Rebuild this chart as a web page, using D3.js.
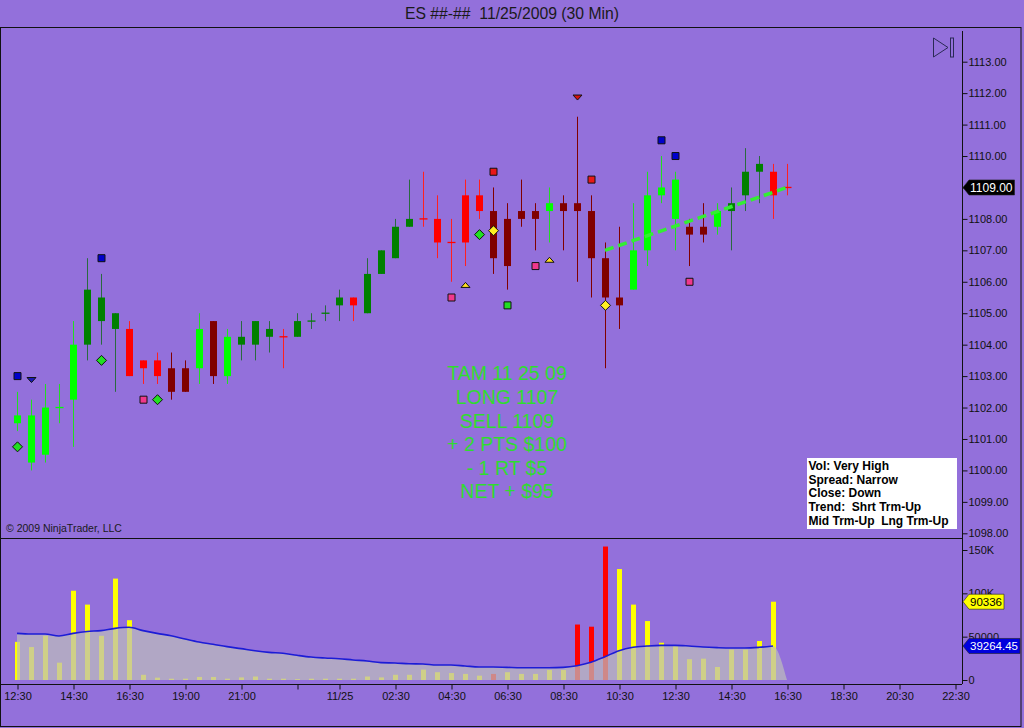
<!DOCTYPE html>
<html>
<head>
<meta charset="utf-8">
<script src="https://cdn.jsdelivr.net/npm/d3@7"></script>
<style>
  body { margin: 0; background: #9370DB; }
  text { font-family: Arial, "Liberation Sans", sans-serif; }
</style>
</head>
<body>
<div id="chart"></div>
<script>
// Chart size
const W = 1024;
const H = 728;

// 30 min bars, index 0 = 11/24 12:30
const opens  = [1101.5,1100.25,1100.5,1102,1102.25,1104,1104.75,1104.5,1104.5,1103.5,
                1103.5,1103.25,1103.25,1103.25,1104.75,1103,1104,1104,1104.25,1104.25,
                1104.25,1104.75,1105,1105.25,1105.5,1105,1106.25,1106.75,1107.75,1108,
                1108,1107.25,1108.75,1108.75,1108.25,1108,1108.25,1108.25,1108.25,1108.5,
                1108.5,1108.25,1106.75,1105.5,1105.75,1107,1108.75,1108,1107.75,1107.75,
                1107.75,1108.25,1108.75,1109.5,1109.5,1109];
const highs  = [1102.5,1102.25,1102.75,1102.75,1104.75,1106.75,1106.25,1105,1104.75,1103.5,
                1103.75,1103.75,1103.5,1105,1104.75,1104.5,1104.75,1104.75,1104.75,1104.5,
                1105,1105,1105.25,1105.75,1105.5,1106.75,1107,1108,1109.25,1109.5,
                1108.75,1108,1109.25,1109.25,1109,1108.5,1109.25,1108.5,1109,1108.75,
                1111.25,1108.75,1107.25,1107.75,1108.5,1109.5,1110,1109.5,1108,1108.5,
                1108.5,1109,1110.25,1110,1109.75,1109.75];
const lows   = [1101.25,1100,1100.25,1101.5,1100.75,1103.5,1104,1102.5,1103,1102.75,
                1102.75,1102.25,1102.5,1102.75,1102.75,1102.75,1103.5,1103.5,1103.75,1103.25,
                1104.25,1104.5,1104.75,1104.75,1104.75,1105,1106.25,1106.75,1107.75,1107.75,
                1106.75,1106,1106.5,1108,1106.25,1105.75,1107.75,1107,1107.25,1107,
                1106,1105.5,1103.25,1104.5,1105.75,1106.5,1108.5,1107,1106.5,1107.25,
                1107.5,1107,1108.25,1108.5,1108,1108.75];
const closes = [1101.75,1101.75,1102,1102,1104,1105.75,1105.5,1105,1103,1103.25,
                1103,1102.5,1102.5,1104.5,1103,1104.25,1104.25,1104.75,1104.5,1104.25,
                1104.75,1104.75,1105,1105.5,1105.25,1106.25,1107,1107.75,1108,1108,
                1107.25,1107.25,1107.25,1108.25,1106.75,1106.5,1108,1108,1108.5,1108.25,
                1108.25,1106.75,1105.5,1105.25,1107,1108.75,1109,1109.25,1107.5,1107.5,
                1108.25,1108.5,1109.5,1109.75,1108.75,1109];
// bar colour class: G strong up, g up, R strong down, r down
const barTypes = ["G","G","G","G","G","g","g","g","R","R",
                  "R","r","r","G","r","G","g","g","g","R",
                  "g","g","g","g","R","g","g","g","g","R",
                  "R","R","R","R","r","r","r","r","G","r",
                  "r","r","r","r","G","G","G","G","r","r",
                  "G","g","g","g","R","R"];

const volumes = [44000,38000,51000,20000,103000,87000,51000,117000,69000,6000,
                 2700,1500,1500,3500,3500,1500,3000,4000,1500,1500,
                 1000,1500,1500,1500,1500,4000,3000,6000,6000,12000,
                 9000,8000,7000,5000,7000,9000,7000,7000,11500,11500,
                 64000,61500,154000,128000,87000,68000,43000,39000,24000,24600,
                 15000,35000,35000,45000,90336,0];
const volDownBars = [34, 40, 41, 42];
const volAvg = [53800,53000,53000,50800,53800,56000,57000,59600,60800,57000,
                53800,51000,47300,43800,41200,38500,36200,33800,31900,30800,
                28500,26500,25400,24600,23100,21900,20000,19600,18800,18500,
                17300,17300,16200,15000,15000,14600,14200,14200,14200,14600,
                16500,20400,26900,33800,37700,39200,40000,40000,39200,38000,
                37300,36900,36900,37700,39264.45,0];

// signal markers: [type, bar, price]
const signals = [
  ["blueSquare", 0, 1103], ["blueSquare", 6, 1106.75], ["blueSquare", 46, 1110.5], ["blueSquare", 47, 1110],
  ["blueDown", 1, 1102.875], ["redDown", 40, 1111.86],
  ["greenDiamond", 0, 1100.75], ["greenDiamond", 6, 1103.5], ["greenDiamond", 10, 1102.25], ["greenDiamond", 33, 1107.5],
  ["pinkSquare", 9, 1102.25], ["pinkSquare", 31, 1105.5], ["pinkSquare", 37, 1106.5], ["pinkSquare", 48, 1106],
  ["yellowUp", 32, 1105.9], ["yellowUp", 38, 1106.7],
  ["redSquare", 34, 1109.5], ["redSquare", 41, 1109.25],
  ["greenSquare", 35, 1105.25],
  ["yellowDiamond", 34, 1107.625], ["yellowDiamond", 42, 1105.25]
];

const trendBars = [42, 55];
const trendPrices = [1107, 1109];

const priceTicks = [1098,1099,1100,1101,1102,1103,1104,1105,1106,1107,1108,1109,1110,1111,1112,1113];
const volTicks = [0, 50000, 100000, 150000];
const volTickLabels = ["0", "50000", "100K", "150K"];
const timeTickIdx = [0,4,8,12,16,20,23,27,31,35,39,43,47,51,55,59,63,67];
const timeTickLabels = ["12:30","14:30","16:30","19:00","21:00","","11/25","02:30","04:30","06:30",
                        "08:30","10:30","12:30","14:30","16:30","18:30","20:30","22:30"];

const tradeNotes = ["TAM 11 25 09", "LONG 1107", "SELL 1109", "+ 2 PTS $100", "- 1 RT $5", "NET + $95"];
const infoLines = ["Vol: Very High", "Spread: Narrow", "Close: Down", "Trend:  Shrt Trm-Up", "Mid Trm-Up  Lng Trm-Up"];

const lastPrice = 1109;

// Layout
const plotRight = 962;
const panelTop = 27;
const splitY = 538;
const timeAxisY = 684;

const barColor = { G: "#00ff00", g: "#008000", R: "#ff0000", r: "#800000" };
const wickColor = { G: "#22dd22", g: "#2a6a40", R: "#ff2020", r: "#800000" };

const svg = d3.select("#chart")
  .append("svg")
    .attr("width", W)
    .attr("height", H)
    .style("display", "block");

svg.append("rect").attr("width", W).attr("height", H).attr("fill", "#9370DB");

// Title
svg.append("text")
  .attr("x", 512)
  .attr("y", 13)
  .attr("dy", "0.35em")
  .attr("text-anchor", "middle")
  .attr("font-size", 17)
  .attr("fill", "#1a1a1a")
  .attr("textLength", 214)
  .attr("lengthAdjust", "spacingAndGlyphs")
  .style("white-space", "pre")
  .text("ES ##-##  11/25/2009 (30 Min)");

// Scales
const x = d3.scaleLinear().domain([0, 67]).range([17, 955]);
const yP = d3.scaleLinear().domain([1098, 1113]).range([533.3, 61.7]);
const yV = d3.scaleLinear().domain([0, 150000]).range([680, 550]);

// Frame and separators
svg.append("rect")
  .attr("x", 0.5).attr("y", panelTop + 0.5)
  .attr("width", 1020.5).attr("height", 699)
  .attr("fill", "none").attr("stroke", "#111");
svg.append("line")
  .attr("x1", 0).attr("x2", plotRight).attr("y1", splitY + 0.5).attr("y2", splitY + 0.5)
  .attr("stroke", "#111");
svg.append("line")
  .attr("x1", 0).attr("x2", plotRight).attr("y1", timeAxisY + 0.5).attr("y2", timeAxisY + 0.5)
  .attr("stroke", "#111");
svg.append("line")
  .attr("x1", plotRight + 0.5).attr("x2", plotRight + 0.5).attr("y1", panelTop + 4).attr("y2", timeAxisY)
  .attr("stroke", "#111");

// Price axis (the last-price flag sits over its own tick, so that label is left blank)
const priceAxis = svg.append("g")
  .attr("transform", `translate(${plotRight + 0.5},0)`)
  .call(d3.axisRight(yP).tickValues(priceTicks)
    .tickFormat(d => d === lastPrice ? "" : d3.format(".2f")(d))
    .tickSize(5).tickSizeOuter(0).tickPadding(1));
priceAxis.select(".domain").remove();

// Volume axis
const volAxis = svg.append("g")
  .attr("transform", `translate(${plotRight + 0.5},0)`)
  .call(d3.axisRight(yV).tickValues(volTicks).tickFormat((d, i) => volTickLabels[i]).tickSize(5).tickSizeOuter(0).tickPadding(1));
volAxis.select(".domain").remove();

// Time axis
const timeAxis = svg.append("g")
  .attr("transform", `translate(0.5,${timeAxisY + 0.5})`)
  .call(d3.axisBottom(x).tickValues(timeTickIdx).tickFormat((d, i) => timeTickLabels[i]).tickSize(5).tickSizeOuter(0).tickPadding(3));
timeAxis.select(".domain").remove();

[priceAxis, volAxis, timeAxis].forEach(g => {
  g.attr("font-size", 11).attr("font-family", "Arial, 'Liberation Sans', sans-serif");
  g.selectAll("line").attr("stroke", "#111");
  g.selectAll("text").attr("fill", "#111");
});

// Volume bars
const volG = svg.append("g");
volG.selectAll("rect")
  .data(volumes)
  .join("rect")
    .attr("x", (d, i) => x(i) - 2)
    .attr("y", d => yV(d))
    .attr("width", 5)
    .attr("height", d => yV(0) - yV(d))
    .attr("fill", (d, i) => volDownBars.includes(i) ? "#ff0000" : "#ffff00");

// Volume average area + line
const area = d3.area()
  .x((d, i) => x(i))
  .y0(yV(0))
  .y1(d => yV(d))
  .curve(d3.curveMonotoneX);
volG.append("path")
  .attr("d", area(volAvg))
  .attr("fill", "#bdbdbd")
  .attr("fill-opacity", 0.72);

const avgLine = d3.line()
  .defined(d => d > 0)
  .x((d, i) => x(i))
  .y(d => yV(d))
  .curve(d3.curveMonotoneX);
volG.append("path")
  .attr("d", avgLine(volAvg))
  .attr("fill", "none")
  .attr("stroke", "#1c1cd6")
  .attr("stroke-width", 1.6);

// Candles
const candles = svg.append("g")
  .selectAll("g")
  .data(opens)
  .join("g")
    .attr("transform", (d, i) => `translate(${x(i)},0)`);

candles.append("line")
  .attr("x1", 0.5).attr("x2", 0.5)
  .attr("y1", (d, i) => yP(highs[i]))
  .attr("y2", (d, i) => yP(lows[i]))
  .attr("stroke", (d, i) => wickColor[barTypes[i]]);

candles.each(function(d, i) {
  const g = d3.select(this);
  const col = barColor[barTypes[i]];
  if (opens[i] === closes[i]) {
    // doji: open = close
    g.append("line")
      .attr("x1", -3.5).attr("x2", 4.5)
      .attr("y1", yP(opens[i])).attr("y2", yP(opens[i]))
      .attr("stroke", col).attr("stroke-width", 1.3);
  } else {
    const top = yP(Math.max(opens[i], closes[i]));
    const bot = yP(Math.min(opens[i], closes[i]));
    g.append("rect")
      .attr("x", -3).attr("width", 7)
      .attr("y", top).attr("height", bot - top)
      .attr("fill", col);
  }
});

// Trend line
svg.append("line")
  .attr("x1", x(trendBars[0])).attr("y1", yP(trendPrices[0]))
  .attr("x2", x(trendBars[1])).attr("y2", yP(trendPrices[1]))
  .attr("stroke", "#33ee33")
  .attr("stroke-width", 3.5)
  .attr("stroke-dasharray", "9,5");

// Signal markers
const markerStyle = {
  blueSquare:    { shape: "square",   fill: "#0000cc" },
  pinkSquare:    { shape: "square",   fill: "#f0388c" },
  redSquare:     { shape: "square",   fill: "#e81818" },
  greenSquare:   { shape: "square",   fill: "#22dd22" },
  greenDiamond:  { shape: "diamond",  fill: "#22e022" },
  yellowDiamond: { shape: "diamond",  fill: "#ffee22" },
  blueDown:      { shape: "down",     fill: "#1a1ab8" },
  redDown:       { shape: "down",     fill: "#d81010" },
  yellowUp:      { shape: "up",       fill: "#ffdd22" }
};
const shapePath = {
  square:  "M-3.5,-3.5H3.5V3.5H-3.5Z",
  diamond: "M0,-5L5,0L0,5L-5,0Z",
  down:    "M-4.5,-2.5H4.5L0,2.5Z",
  up:      "M-4.5,2.5H4.5L0,-2.5Z"
};
svg.append("g")
  .selectAll("path")
  .data(signals)
  .join("path")
    .attr("transform", d => `translate(${x(d[1]) + 0.5},${yP(d[2])})`)
    .attr("d", d => shapePath[markerStyle[d[0]].shape])
    .attr("fill", d => markerStyle[d[0]].fill)
    .attr("stroke", "#111")
    .attr("stroke-width", 1);

// Trade notes
svg.append("g")
  .selectAll("text")
  .data(tradeNotes)
  .join("text")
    .attr("x", 507)
    .attr("y", (d, i) => 373.5 + i * 23.6)
    .attr("dy", "0.35em")
    .attr("text-anchor", "middle")
    .attr("font-size", 19.5)
    .attr("fill", "#30dc30")
    .text(d => d);

// Info box
svg.append("rect")
  .attr("x", 807).attr("y", 458)
  .attr("width", 150).attr("height", 71)
  .attr("fill", "#ffffff");
svg.append("g")
  .selectAll("text")
  .data(infoLines)
  .join("text")
    .attr("x", 808.5)
    .attr("y", (d, i) => 465.7 + i * 13.75)
    .attr("dy", "0.35em")
    .attr("font-size", 12)
    .attr("font-weight", "bold")
    .attr("fill", "#000")
    .style("white-space", "pre")
    .text(d => d);

// Copyright
svg.append("text")
  .attr("x", 6).attr("y", 528)
  .attr("dy", "0.35em")
  .attr("font-size", 10.5)
  .attr("fill", "#1a1a1a")
  .text("\u00a9 2009 NinjaTrader, LLC");

// Scroll-to-end icon
const icon = svg.append("g").attr("fill", "none").attr("stroke", "#2a2a55").attr("stroke-width", 1);
icon.append("path").attr("d", "M933.5,38L948,47.5L933.5,57Z");
icon.append("rect").attr("x", 950.5).attr("y", 38).attr("width", 3).attr("height", 19);

// Value flags on the right axis
function flag(yc, label, fill, color, fontSize) {
  const g = svg.append("g");
  const path = g.append("path").attr("fill", fill).attr("stroke", "#222").attr("stroke-width", 0.6);
  const t = g.append("text")
    .attr("x", 970)
    .attr("y", yc)
    .attr("dy", "0.35em")
    .attr("font-size", fontSize)
    .attr("fill", color)
    .text(label);
  const w = t.node().getComputedTextLength();
  const right = 970 + w + 2;
  path.attr("d", `M963,${yc}L969,${yc - 7.5}H${right}V${yc + 7.5}H969Z`);
}
flag(yP(lastPrice), d3.format(".2f")(lastPrice), "#000", "#fff", 12);
flag(yV(volumes[54]), String(volumes[54]), "#ffff00", "#000", 11.5);
flag(yV(volAvg[54]), d3.format(".2f")(volAvg[54]), "#0000dd", "#fff", 11.5);
</script>
</body>
</html>
